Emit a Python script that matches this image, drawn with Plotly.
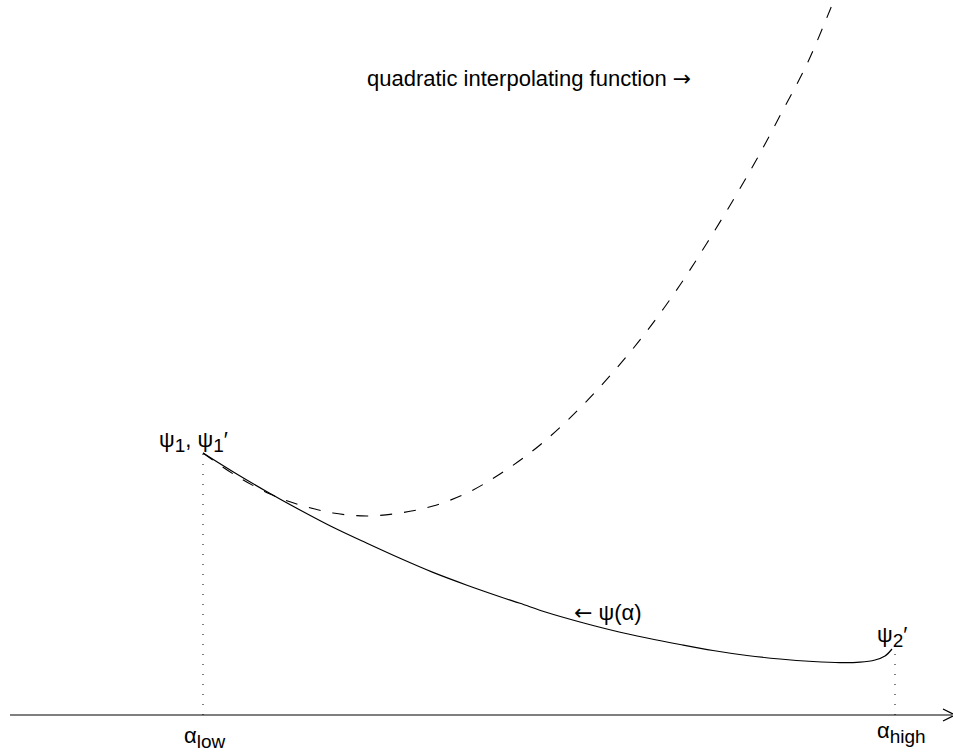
import plotly.graph_objects as go

# Data (alpha in horizontal units, psi in vertical units above the axis)
psi_alpha = [203, 233, 267, 300, 333, 367, 400, 433, 467, 500, 520, 547, 580, 613, 647,
             680, 713, 747, 780, 813, 840, 860, 875, 885, 892]
psi_value = [262, 243.3, 223.3, 205, 187.7, 171.7, 156.7, 142.6, 129.8, 118.3, 111.7, 102.5,
             93, 84.5, 77, 70.5, 64.5, 59.5, 56, 53.5, 52.3, 52.8, 55, 59, 66]

quad_alpha = [203, 235, 270, 300, 333, 367, 400, 433, 467, 500, 540, 580, 615, 647, 680,
              707, 735, 758, 783, 807, 830, 834]
quad_value = [262, 240, 221, 210, 202, 199, 202, 209, 222, 241, 270, 307, 345, 384, 430,
              472, 518, 558, 605, 651, 705, 715]

alpha_low = 203
alpha_high = 895
psi_low = 262
psi_high = 66

FONT = "Liberation Sans, Arial, sans-serif"
FS = 22
ARROW = '<span style="font-family:DejaVu Sans">{}</span>'
SUB = '<sub><span style="font-size:19px">{}</span></sub>'

fig = go.Figure()

# axis line with open arrow head
fig.add_trace(go.Scatter(x=[10, 952], y=[0, 0], mode="lines",
                         line=dict(color="black", width=1.2), hoverinfo="skip"))
fig.add_trace(go.Scatter(x=[943, 955, 943], y=[6, 0, -6], mode="lines",
                         line=dict(color="black", width=1.3), hoverinfo="skip"))

# dotted verticals
fig.add_trace(go.Scatter(x=[alpha_low, alpha_low], y=[0, psi_low], mode="lines",
                         line=dict(color="black", width=1, dash="1px,9px"), hoverinfo="skip"))
fig.add_trace(go.Scatter(x=[alpha_high, alpha_high], y=[0, psi_high], mode="lines",
                         line=dict(color="black", width=1, dash="1px,9px"), hoverinfo="skip"))

# quadratic interpolating function (dashed)
fig.add_trace(go.Scatter(x=quad_alpha, y=quad_value, mode="lines", line_shape="spline",
                         line=dict(color="black", width=1.1, dash="12px,12px"), hoverinfo="skip"))

# psi(alpha) solid
fig.add_trace(go.Scatter(x=psi_alpha, y=psi_value, mode="lines", line_shape="spline",
                         line=dict(color="black", width=1.2), hoverinfo="skip"))


def label(text, x, y, xanchor="left", yanchor="middle"):
    fig.add_annotation(x=x, y=y, text=text, showarrow=False, xanchor=xanchor, yanchor=yanchor,
                       font=dict(family=FONT, size=FS, color="black"),
                       borderpad=0, xref="x", yref="y")


label("quadratic interpolating function " + ARROW.format("\u2192"), 366, 637)
label(ARROW.format("\u2190") + " \u03c8(\u03b1)", 573, 103)
label("\u03c8" + SUB.format("1") + ", \u03c8" + SUB.format("1") + "\u2032", 158, 274)
label("\u03c8" + SUB.format("2") + "\u2032", 876, 79)
label("\u03b1" + SUB.format("low"), 183, -22)
label("\u03b1" + SUB.format("high"), 876, -17)

fig.update_layout(
    width=953, height=754,
    margin=dict(l=0, r=0, t=0, b=0),
    paper_bgcolor="white", plot_bgcolor="white",
    showlegend=False,
    xaxis=dict(range=[0, 953], visible=False, fixedrange=True),
    yaxis=dict(range=[-39, 715], visible=False, fixedrange=True),
)

fig.write_html("out.html", config={"displayModeBar": False},
               post_script="document.body.style.margin='0';document.body.style.overflow='hidden';")
